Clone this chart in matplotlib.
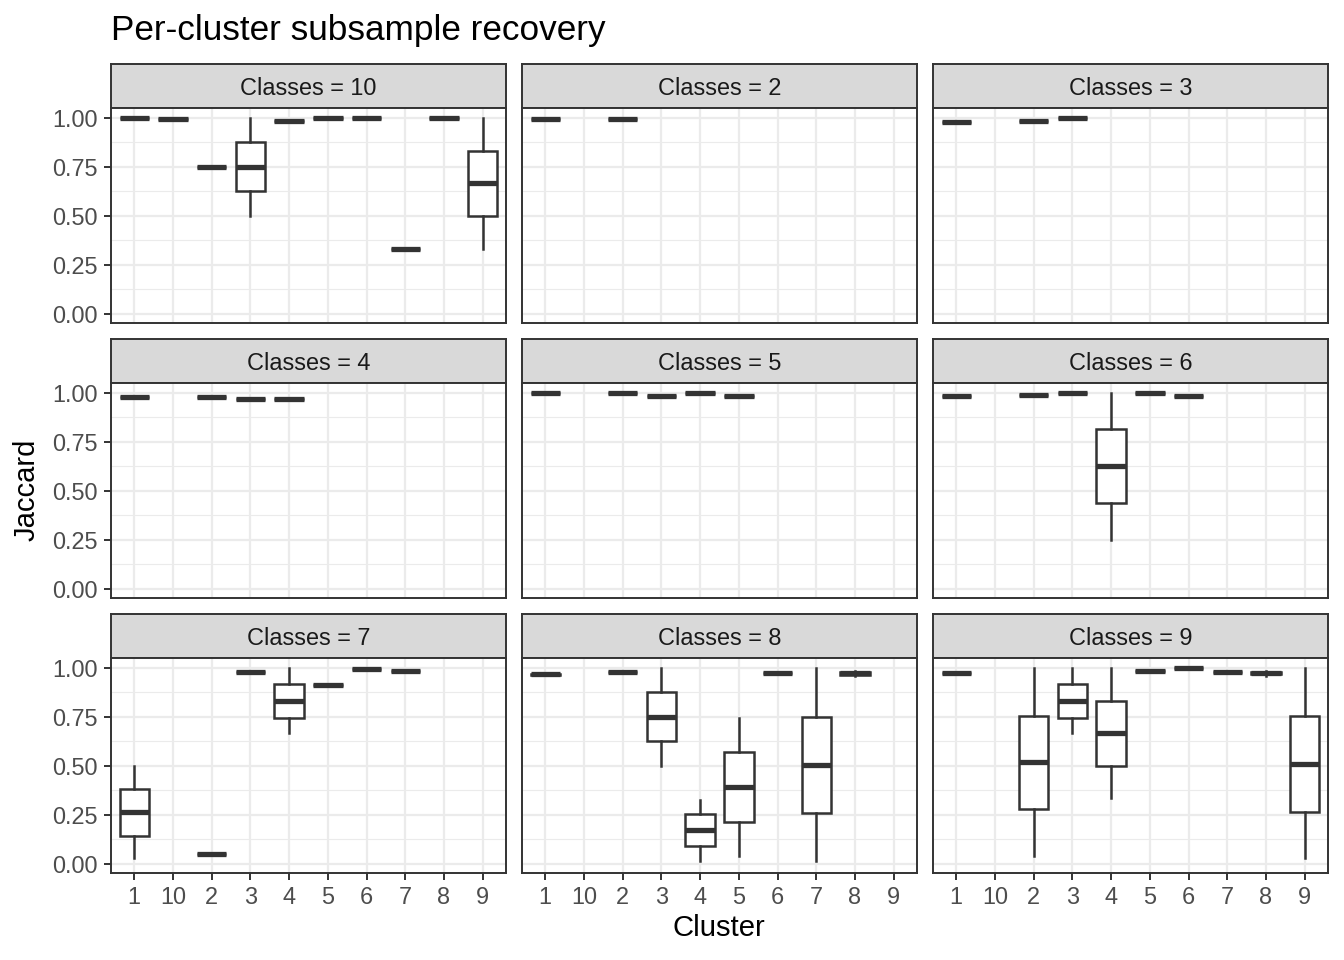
import matplotlib
matplotlib.use('Agg')
import matplotlib.pyplot as plt

plt.rcParams['font.family'] = ['Liberation Sans', 'DejaVu Sans']

# cluster order on the x axis (sorted as text, like the source)
clusters = ['1', '10', '2', '3', '4', '5', '6', '7', '8', '9']
facet_titles = ['Classes = 10', 'Classes = 2', 'Classes = 3',
                'Classes = 4', 'Classes = 5', 'Classes = 6',
                'Classes = 7', 'Classes = 8', 'Classes = 9']

# per facet: cluster -> single value, or (whisker low, q1, median, q3, whisker high)
classes10 = {'1': 1.0, '10': 0.993, '2': 0.75, '3': (0.5, 0.625, 0.75, 0.875, 1.0),
             '4': 0.986, '5': 1.0, '6': 1.0, '7': 0.333, '8': 1.0,
             '9': (0.333, 0.5, 0.667, 0.833, 1.0)}
classes2 = {'1': 0.993, '2': 0.993}
classes3 = {'1': 0.98, '2': 0.986, '3': 0.998}
classes4 = {'1': 0.98, '2': 0.98, '3': 0.968, '4': 0.968}
classes5 = {'1': 1.0, '2': 1.0, '3': 0.986, '4': 1.0, '5': 0.986}
classes6 = {'1': 0.986, '2': 0.991, '3': 0.998, '4': (0.25, 0.437, 0.625, 0.815, 1.0),
            '5': 1.0, '6': 0.986}
classes7 = {'1': (0.029, 0.145, 0.264, 0.381, 0.5), '2': 0.053, '3': 0.98,
            '4': (0.67, 0.746, 0.832, 0.917, 1.0), '5': 0.912, '6': 0.993, '7': 0.986}
classes8 = {'1': (0.962, 0.965, 0.967, 0.97, 0.975), '2': 0.98,
            '3': (0.5, 0.625, 0.75, 0.875, 1.0), '4': (0.015, 0.092, 0.173, 0.255, 0.328),
            '5': (0.041, 0.216, 0.395, 0.573, 0.746), '6': 0.973,
            '7': (0.015, 0.258, 0.507, 0.75, 1.0), '8': (0.96, 0.965, 0.973, 0.98, 0.985)}
classes9 = {'1': 0.973, '2': (0.041, 0.279, 0.519, 0.757, 1.0),
            '3': (0.67, 0.746, 0.832, 0.917, 1.0), '4': (0.335, 0.498, 0.667, 0.833, 1.0),
            '5': 0.986, '6': 1.0, '7': (0.975, 0.978, 0.98, 0.982, 0.985),
            '8': (0.96, 0.968, 0.975, 0.98, 0.985), '9': (0.029, 0.267, 0.51, 0.757, 1.0)}
facets = [classes10, classes2, classes3, classes4, classes5,
          classes6, classes7, classes8, classes9]

y_ticks = [0.0, 0.25, 0.5, 0.75, 1.0]
y_minor = [0.125, 0.375, 0.625, 0.875]

W, H = 1344, 960
fig = plt.figure(figsize=(W / 100, H / 100), dpi=100)

col_x = [(111, 506), (522, 917), (933, 1328)]
row_y = [(64, 108, 323), (339, 383, 598), (614, 658, 873)]
dark = '#333333'


def px_axes(x0, y0, x1, y1):
    return fig.add_axes([x0 / W, 1 - y1 / H, (x1 - x0) / W, (y1 - y0) / H])


def to_stats(v, label):
    if not isinstance(v, tuple):
        v = (v, v, v, v, v)
    lo, q1, med, q3, hi = v
    return dict(whislo=lo, q1=q1, med=med, q3=q3, whishi=hi, fliers=[], label=label)


for i, (title, data) in enumerate(zip(facet_titles, facets)):
    r, c = divmod(i, 3)
    x0, x1 = col_x[c]
    st, pt, pb = row_y[r]

    # strip
    sax = px_axes(x0, st, x1, pt)
    sax.set_facecolor('#D9D9D9')
    sax.set_xticks([])
    sax.set_yticks([])
    for s in sax.spines.values():
        s.set_color(dark)
        s.set_linewidth(1.4)
    sax.text(0.5, 0.45, title, ha='center', va='center', fontsize=16.9,
             color='#1A1A1A', transform=sax.transAxes)

    ax = px_axes(x0, pt, x1, pb)
    ax.set_facecolor('white')
    stats = [to_stats(v, k) for k, v in data.items()]
    pos = [clusters.index(k) for k in data]
    ax.bxp(stats, positions=pos, widths=0.76, showcaps=False, showfliers=False,
           patch_artist=True,
           boxprops=dict(facecolor='white', edgecolor=dark, linewidth=1.8),
           whiskerprops=dict(color=dark, linewidth=1.8),
           medianprops=dict(color=dark, linewidth=3.8, solid_capstyle='butt'))

    ax.set_xlim(-0.6, len(clusters) - 0.4)
    ax.set_ylim(-0.046, 1.051)
    ax.set_xticks(range(len(clusters)))
    ax.set_yticks(y_ticks)
    ax.set_yticks(y_minor, minor=True)
    ax.set_axisbelow(True)
    ax.grid(True, which='major', color='#EBEBEB', linewidth=1.6)
    ax.grid(True, which='minor', axis='y', color='#EBEBEB', linewidth=0.8)
    ax.tick_params(which='minor', length=0)
    ax.tick_params(which='major', length=5.3, width=1.4, color=dark, pad=4.2,
                   labelsize=16.9, labelcolor='#4D4D4D')
    for s in ax.spines.values():
        s.set_color(dark)
        s.set_linewidth(1.4)

    if c == 0:
        ax.set_yticklabels([f'{t:.2f}' for t in y_ticks])
    else:
        ax.tick_params(axis='y', left=False, labelleft=False)
    if r == 2:
        ax.set_xticklabels(clusters)
    else:
        ax.tick_params(axis='x', bottom=False, labelbottom=False)

fig.text(111 / W, 1 - 40 / H, 'Per-cluster subsample recovery', fontsize=25.3,
         ha='left', va='baseline', color='black')
fig.text(719 / W, 1 - 928 / H, 'Cluster', fontsize=21.1, ha='center', va='center')
fig.text(27 / W, 1 - 490 / H, 'Jaccard', fontsize=21.1, ha='center', va='center',
         rotation=90)

fig.savefig('out.png', dpi=100, facecolor='white')
